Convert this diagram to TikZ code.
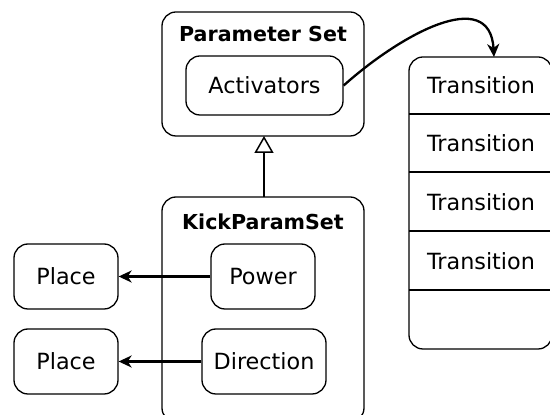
\documentclass[tikz,border=0pt]{standalone}
\usepackage{fontspec}
\setmainfont{DejaVu Sans}
\usetikzlibrary{arrows.meta}
\begin{document}
\begin{tikzpicture}[x=1pt,y=1pt,
  box/.style={draw, rounded corners=14pt, line width=1.3pt, inner sep=0pt},
  lbl/.style={font=\fontsize{22.3}{24}\selectfont, inner sep=0pt},
  ttl/.style={font=\fontsize{20.6}{24}\selectfont\bfseries, inner sep=0pt},
  conn/.style={line width=2.3pt, -{Stealth[length=13pt,width=12pt,inset=4pt]}},
  inh/.style={line width=2.3pt, -{Triangle[open,length=17pt,width=19pt,line width=1.5pt]}}
]
\useasboundingbox (0,0) rectangle (550,415);
\clip (0,0) rectangle (550,415);
% Parameter Set
\node[box, minimum width=202pt, minimum height=124pt] (ps) at (263,341) {};
\node[ttl] (pst) at (263,381) {Parameter Set};
\node[box, minimum width=157pt, minimum height=59pt, lbl] (act) at (264.5,329.5) {Activators};
% Transition column
\node[box, minimum width=143pt, minimum height=292pt] (tc) at (480.5,212) {};
\coordinate (d1l) at (409,301); \coordinate (d1r) at (552,301);
\coordinate (d2l) at (409,243); \coordinate (d2r) at (552,243);
\coordinate (d3l) at (409,184); \coordinate (d3r) at (552,184);
\coordinate (d4l) at (409,125); \coordinate (d4r) at (552,125);
\draw[line width=1.3pt] (d1l) -- (d1r) (d2l) -- (d2r) (d3l) -- (d3r) (d4l) -- (d4r);
\node[lbl] (t1) at (481,330) {Transition};
\node[lbl] (t2) at (481,272) {Transition};
\node[lbl] (t3) at (481,213) {Transition};
\node[lbl] (t4) at (481,154) {Transition};
\coordinate (tctop) at (494,358);
\draw[conn] (act.east) .. controls (400,380) and (490,430) .. (tctop);
% KickParamSet
\node[box, minimum width=202pt, minimum height=225pt] (kps) at (263,105.5) {};
\node[ttl] (kpst) at (263,193) {KickParamSet};
\node[box, minimum width=104pt, minimum height=65pt, lbl] (pow) at (263,138.5) {Power};
\node[box, minimum width=124pt, minimum height=65pt, lbl] (dir) at (264,53.5) {Direction};
\node[box, minimum width=104pt, minimum height=65pt, lbl] (pl1) at (66,138.5) {Place};
\node[box, minimum width=104pt, minimum height=65pt, lbl] (pl2) at (66,53.5) {Place};
\draw[conn] (pow.west) -- (pl1.east);
\draw[conn] (dir.west) -- (pl2.east);
\coordinate (kpstop) at (264,218);
\coordinate (psbot) at (264,279);
\draw[inh] (kpstop) -- (psbot);
\end{tikzpicture}
\end{document}
